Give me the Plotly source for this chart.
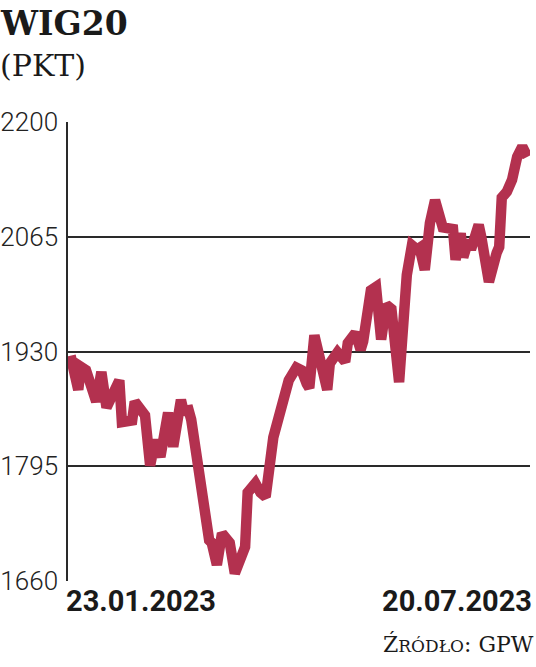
import plotly.graph_objects as go

dates = [
    "2023-01-23", "2023-01-26", "2023-01-27", "2023-01-29", "2023-02-02", "2023-02-04",
    "2023-02-06", "2023-02-11", "2023-02-12", "2023-02-16", "2023-02-17", "2023-02-21",
    "2023-02-23", "2023-02-25", "2023-02-27", "2023-03-02", "2023-03-04", "2023-03-07",
    "2023-03-08", "2023-03-10", "2023-03-11", "2023-03-14", "2023-03-15", "2023-03-18",
    "2023-03-19", "2023-03-21", "2023-03-23", "2023-03-25", "2023-03-26", "2023-03-28",
    "2023-03-30", "2023-04-01", "2023-04-02", "2023-04-05", "2023-04-07", "2023-04-09",
    "2023-04-12", "2023-04-14", "2023-04-16", "2023-04-18", "2023-04-21", "2023-04-23",
    "2023-04-25", "2023-04-26", "2023-04-28", "2023-04-30", "2023-05-03", "2023-05-04",
    "2023-05-07", "2023-05-10", "2023-05-11", "2023-05-14", "2023-05-16", "2023-05-17",
    "2023-05-20", "2023-05-22", "2023-05-24", "2023-05-26", "2023-05-28", "2023-05-31",
    "2023-06-02", "2023-06-03", "2023-06-05", "2023-06-07", "2023-06-08", "2023-06-10",
    "2023-06-12", "2023-06-14", "2023-06-17", "2023-06-19", "2023-06-21", "2023-06-22",
    "2023-06-24", "2023-06-25", "2023-06-27", "2023-06-28", "2023-07-01", "2023-07-02",
    "2023-07-04", "2023-07-05", "2023-07-08", "2023-07-09", "2023-07-10", "2023-07-12",
    "2023-07-14", "2023-07-16", "2023-07-18", "2023-07-20",
]
wig20 = [
    1925, 1885, 1912, 1908, 1871, 1906,
    1864, 1896, 1847, 1849, 1871, 1855,
    1796, 1826, 1806, 1858, 1818, 1873,
    1860, 1861, 1850, 1791, 1755, 1708,
    1705, 1679, 1716, 1706, 1705, 1669,
    1685, 1700, 1764, 1775, 1764, 1759,
    1829, 1853, 1865, 1896, 1911, 1908,
    1892, 1887, 1949, 1926, 1885, 1916,
    1929, 1918, 1940, 1952, 1932, 1942,
    2002, 2006, 1944, 1985, 1980, 1894,
    2018, 2020, 2055, 2050, 2052, 2026,
    2081, 2108, 2076, 2075, 2074, 2038,
    2069, 2041, 2061, 2050, 2079, 2065,
    2016, 2012, 2046, 2053, 2111, 2118,
    2132, 2159, 2171, 2159,
]
y_ticks = [1660, 1795, 1930, 2065, 2200]
x_labels = ["23.01.2023", "20.07.2023"]
title = "WIG20"
unit = "(PKT)"

LINE = "#b3314f"
AX = "#2a2a2a"
SANS = "Roboto"
SERIF = "DejaVu Serif"

PW, PH = 462, 459  # plot area size in px

fig = go.Figure()
fig.add_trace(go.Scatter(
    x=dates, y=wig20, mode="lines",
    line=dict(color=LINE, width=10.5, shape="linear"),
    hoverinfo="skip", showlegend=False,
))

fig.update_layout(
    width=536, height=667,
    margin=dict(l=68, r=6, t=122, b=86, autoexpand=False),
    paper_bgcolor="white", plot_bgcolor="white",
    xaxis=dict(
        type="date", range=["2023-01-22", "2023-07-21"],
        showgrid=False, showticklabels=False, zeroline=False,
        showline=False, ticks="", automargin=False,
    ),
    yaxis=dict(
        range=[1660, 2200], tickvals=y_ticks,
        ticktext=[str(v) for v in y_ticks],
        showgrid=True, gridcolor=AX, gridwidth=1.5,
        showline=True, linecolor=AX, linewidth=1.5,
        zeroline=False, ticks="outside", ticklen=3, tickcolor="rgba(0,0,0,0)",
        tickfont=dict(family=SANS, size=26, color="#222", weight=300),
        automargin=False,
    ),
)

# Title and unit
fig.add_annotation(xref="paper", yref="paper", x=-70/PW, y=1 + 120/PH,
                   xanchor="left", yanchor="top", showarrow=False,
                   text="<b>" + title + "</b>",
                   font=dict(family=SERIF, size=33, color="#1a1a1a"))
fig.add_annotation(xref="paper", yref="paper", x=-70/PW, y=1 + 76/PH,
                   xanchor="left", yanchor="top", showarrow=False,
                   text=unit,
                   font=dict(family=SERIF, size=30, color="#1a1a1a"))

# X labels
fig.add_annotation(xref="paper", yref="paper", x=-4/PW, y=-1/PH,
                   xanchor="left", yanchor="top", showarrow=False,
                   text="<b>" + x_labels[0] + "</b>",
                   font=dict(family=SANS, size=29, color="#1a1a1a"))
fig.add_annotation(xref="paper", yref="paper", x=1 + 4/PW, y=-1/PH,
                   xanchor="right", yanchor="top", showarrow=False,
                   text="<b>" + x_labels[1] + "</b>",
                   font=dict(family=SANS, size=29, color="#1a1a1a"))

# Source
fig.add_annotation(xref="paper", yref="paper", x=1 + 6/PW, y=-48/PH,
                   xanchor="right", yanchor="top", showarrow=False,
                   text="Ź<span style='font-size:17px'>RÓDŁO</span>: GPW",
                   font=dict(family=SERIF, size=22, color="#1a1a1a"))

fig.write_html("out.html", config={"displayModeBar": False},
               post_script="document.body.style.margin='0';")
